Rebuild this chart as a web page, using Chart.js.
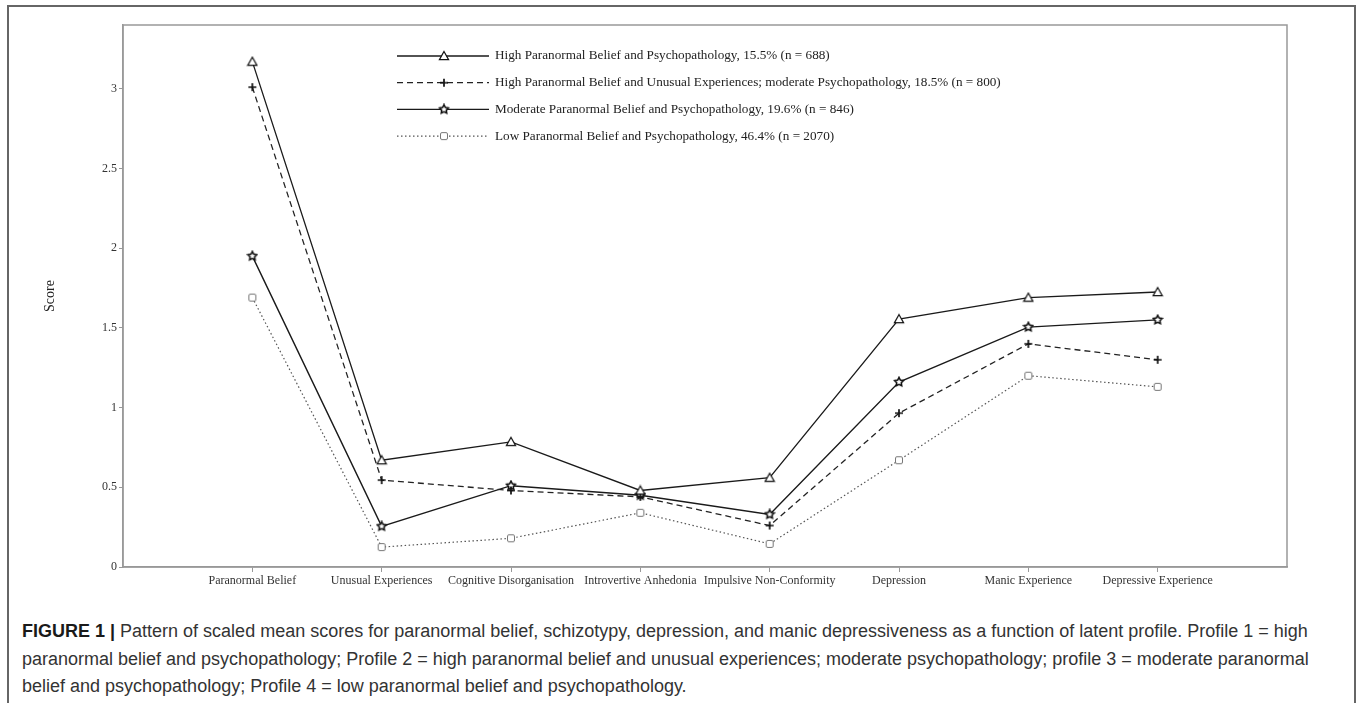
<!DOCTYPE html>
<html>
<head>
<meta charset="utf-8">
<script src="https://cdn.jsdelivr.net/npm/chart.js@4"></script>
<style>
  html, body { margin: 0; padding: 0; background: #fff; }
  body { width: 1357px; height: 703px; position: relative; overflow: hidden; }
  .frame { position: absolute; left: 7px; top: 5px; width: 1349px; height: 760px; border: 2px solid #666; box-sizing: border-box; }
  #chart { position: absolute; left: 0; top: 0; }
  .caption { position: absolute; left: 22px; top: 618px; font-family: 'Liberation Sans', Arial, sans-serif; font-size: 18px; line-height: 27.5px; color: #333; white-space: nowrap; }
  .caption b { color: #1a1a1a; }
</style>
</head>
<body>
<div class="frame"></div>
<canvas id="chart" width="1357" height="610"></canvas>
<div class="caption">
  <b>FIGURE 1 |</b> Pattern of scaled mean scores for paranormal belief, schizotypy, depression, and manic depressiveness as a function of latent profile. Profile 1 = high<br>
  paranormal belief and psychopathology; Profile 2 = high paranormal belief and unusual experiences; moderate psychopathology; profile 3 = moderate paranormal<br>
  belief and psychopathology; Profile 4 = low paranormal belief and psychopathology.
</div>
<script>
const categories = ['Paranormal Belief', 'Unusual Experiences', 'Cognitive Disorganisation', 'Introvertive Anhedonia',
    'Impulsive Non-Conformity', 'Depression', 'Manic Experience', 'Depressive Experience'];
const yTicks = [0, 0.5, 1, 1.5, 2, 2.5, 3];

const profileLabels = [
    'High Paranormal Belief and Psychopathology, 15.5% (n = 688)',
    'High Paranormal Belief and Unusual Experiences; moderate Psychopathology, 18.5% (n = 800)',
    'Moderate Paranormal Belief and Psychopathology, 19.6% (n = 846)',
    'Low Paranormal Belief and Psychopathology, 46.4% (n = 2070)'
];
const profile1 = [3.17, 0.67, 0.785, 0.48, 0.56, 1.555, 1.69, 1.725];
const profile2 = [3.01, 0.545, 0.48, 0.44, 0.26, 0.965, 1.40, 1.30];
const profile3 = [1.95, 0.255, 0.51, 0.45, 0.33, 1.16, 1.505, 1.55];
const profile4 = [1.69, 0.125, 0.18, 0.34, 0.145, 0.67, 1.20, 1.13];

const SERIF = "'Liberation Serif', 'Times New Roman', serif";

function makeMarker(shape) {
    const c = document.createElement('canvas');
    c.width = 12; c.height = 12;
    const g = c.getContext('2d');
    g.translate(6, 6);
    g.fillStyle = '#fff';
    g.strokeStyle = '#111';
    g.lineWidth = 1.2;
    g.beginPath();
    if (shape === 'triangle') {
        g.moveTo(0, -4.5); g.lineTo(4.6, 3.6); g.lineTo(-4.6, 3.6); g.closePath();
        g.fill(); g.stroke();
    } else if (shape === 'plus') {
        g.lineWidth = 1.7;
        g.moveTo(-4, 0); g.lineTo(4, 0); g.moveTo(0, -4); g.lineTo(0, 4);
        g.stroke();
    } else if (shape === 'star') {
        g.lineWidth = 1.6;
        for (let i = 0; i < 10; i++) {
            const r = i % 2 === 0 ? 4.6 : 2.4;
            const a = -Math.PI / 2 + i * Math.PI / 5;
            g.lineTo(r * Math.cos(a), r * Math.sin(a));
        }
        g.closePath();
        g.fill(); g.stroke();
    } else {
        g.strokeStyle = '#777';
        g.lineWidth = 1;
        g.roundRect(-3.5, -3.5, 7, 7, 1.5);
        g.fill(); g.stroke();
    }
    return c;
}

const toPoints = arr => arr.map((v, i) => ({ x: i, y: v }));

const datasets = [
    { label: profileLabels[0], data: toPoints(profile1), borderColor: '#1a1a1a', borderWidth: 1.3, borderDash: [], pointStyle: makeMarker('triangle') },
    { label: profileLabels[1], data: toPoints(profile2), borderColor: '#222', borderWidth: 1.3, borderDash: [6, 4], pointStyle: makeMarker('plus') },
    { label: profileLabels[2], data: toPoints(profile3), borderColor: '#1a1a1a', borderWidth: 1.4, borderDash: [], pointStyle: makeMarker('star') },
    { label: profileLabels[3], data: toPoints(profile4), borderColor: '#555', borderWidth: 1.2, borderDash: [1.5, 2.5], pointStyle: makeMarker('square') }
];
datasets.forEach(d => { d.fill = false; d.tension = 0; d.pointRadius = 4; });

// plot frame and the line-with-marker legend
const framePlugin = {
    id: 'frameLegend',
    afterDraw(chart) {
        const { ctx, chartArea: a } = chart;
        ctx.save();
        ctx.strokeStyle = '#999';
        ctx.lineWidth = 1.5;
        ctx.strokeRect(a.left, a.top, a.right - a.left, a.bottom - a.top);

        chart.data.datasets.forEach((ds, i) => {
            const y = 56 + i * 26.7;
            ctx.beginPath();
            ctx.setLineDash(ds.borderDash);
            ctx.strokeStyle = ds.borderColor;
            ctx.lineWidth = ds.borderWidth;
            ctx.moveTo(397, y);
            ctx.lineTo(489, y);
            ctx.stroke();
            ctx.setLineDash([]);
            const img = ds.pointStyle;
            ctx.drawImage(img, 444 - img.width / 2, y - img.height / 2);
            ctx.fillStyle = '#222';
            ctx.font = '13.2px ' + SERIF;
            ctx.textBaseline = 'middle';
            ctx.fillText(ds.label, 495, y);
        });
        ctx.restore();
    }
};

new Chart(document.getElementById('chart'), {
    type: 'line',
    data: { datasets: datasets },
    plugins: [framePlugin],
    options: {
        responsive: false,
        animation: false,
        layout: { padding: { top: 25, right: 70, bottom: 0, left: 0 } },
        plugins: {
            legend: { display: false },
            tooltip: { enabled: false }
        },
        scales: {
            x: {
                type: 'linear',
                min: -1,
                max: 8,
                afterBuildTicks: s => { s.ticks = categories.map((c, i) => ({ value: i })); },
                afterFit: s => { s.height = 43; },
                grid: { drawOnChartArea: false, tickLength: 5, color: '#999' },
                border: { color: '#999', width: 1.5 },
                ticks: {
                    autoSkip: false,
                    maxRotation: 0,
                    padding: 2,
                    color: '#333',
                    font: { family: SERIF, size: 12 },
                    callback: v => categories[v] ?? ''
                }
            },
            y: {
                min: 0,
                max: 3.4,
                afterBuildTicks: s => { s.ticks = yTicks.map(v => ({ value: v })); },
                afterFit: s => { s.width = 123; },
                grid: { drawOnChartArea: false, tickLength: 4, color: '#999' },
                border: { color: '#999', width: 1.5 },
                ticks: {
                    padding: 2,
                    color: '#333',
                    font: { family: SERIF, size: 12 },
                    callback: v => String(v)
                },
                title: {
                    display: true,
                    text: 'Score',
                    color: '#222',
                    font: { family: SERIF, size: 14 },
                    padding: { top: 42, bottom: 0 }
                }
            }
        }
    }
});
</script>
</body>
</html>
